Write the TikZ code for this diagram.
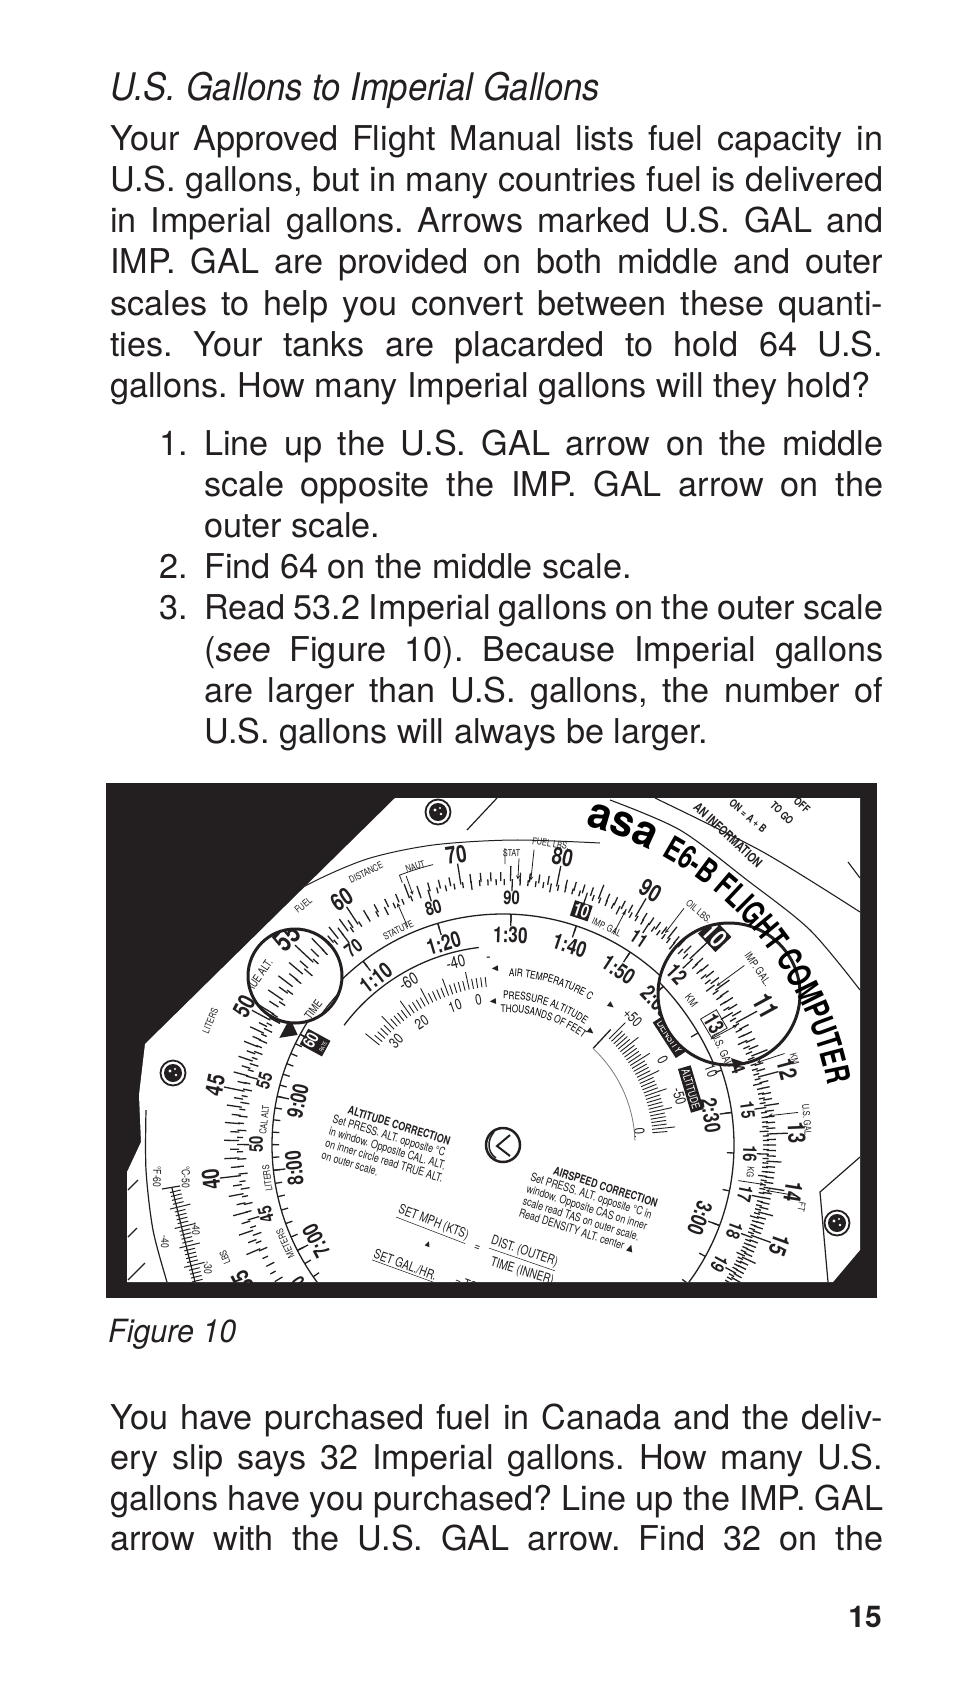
\documentclass[tikz,border=0pt]{standalone}
\usepackage{amssymb}
\usepackage{graphicx}
\usepackage{fontspec}
\setmainfont{TeX Gyre Heros}
\newfontfamily\cnd[FakeStretch=0.78]{TeX Gyre Heros}
\newfontfamily\ttlfont[FakeStretch=0.91]{TeX Gyre Heros}
\newfontfamily\figfont[FakeStretch=0.95]{TeX Gyre Heros}
\newfontfamily\brandfont[FakeStretch=0.73]{TeX Gyre Heros}
\newfontfamily\asafont[FakeStretch=0.95]{TeX Gyre Heros}
\usetikzlibrary{decorations.text}
\definecolor{ink}{RGB}{35,31,32}
\frenchspacing
\newcommand\jline[2]{\setbox0=\hbox{#2}\ifdim\wd0>\dimexpr#1+20pt\relax\resizebox{#1}{\height}{#2}\else\makebox[#1][s]{#2}\fi}
\tikzset{
  body/.style={anchor=base west,inner sep=0pt,text=ink,font=\fontsize{34.2}{41}\selectfont},
  tk/.style={draw=ink,line width=1.3pt},
  olab/.style={inner sep=0pt,text=ink,font=\cnd\bfseries\fontsize{24}{24}\selectfont},
  mlab/.style={inner sep=0pt,text=ink,font=\cnd\bfseries\fontsize{19}{19}\selectfont},
  hlab/.style={inner sep=0pt,text=ink,font=\cnd\bfseries\fontsize{22}{22}\selectfont},
  slab/.style={inner sep=0pt,text=ink,font=\cnd\fontsize{9.5}{9.5}\selectfont},
  nlab/.style={inner sep=0pt,text=ink,font=\cnd\fontsize{17}{17}\selectfont},
  plab/.style={inner sep=0pt,text=ink,font=\cnd\fontsize{15}{15}\selectfont},
  tlab/.style={inner sep=0pt,text=ink,font=\cnd\fontsize{11}{11}\selectfont},
  blk/.style={fill=ink,text=white,inner sep=1.5pt},
  corr/.style={inner sep=0pt,text=ink,align=left,font=\cnd\fontsize{11.5}{12.6}\selectfont},
  setl/.style={inner sep=0pt,text=ink,font=\cnd\fontsize{13}{13}\selectfont},
  slide/.style={inner sep=0pt,text=ink,font=\cnd\bfseries\fontsize{11}{11}\selectfont},
  arr/.style={draw=ink,line width=0.8pt,-stealth},
}
\def\magmode{0}
% label on the ring: style, angle, radius, text (skipped/kept according to the magnifier being drawn)
\newcommand\rlab[4]{%
 \pgfmathsetmacro\px{503+#3*cos(#2)}%
 \pgfmathsetmacro\py{1145-#3*sin(#2)}%
 \pgfmathsetmacro\dA{veclen(\px-295,\py-976)}%
 \pgfmathsetmacro\dB{veclen(\px-729,\py-994)}%
 \pgfmathsetmacro\showit{\magmode==0 ? and(\dA>44,\dB>67) : (\magmode==1 ? \dA<44 : \dB<67)}%
 \ifdim\showit pt>0.5pt\relax\node[#1,rotate=#2-90] at (#2:#3) {#4};\fi}
\newcommand\rivet[1]{\draw[ink,line width=1.8pt] #1 circle (12.5);\fill[ink] #1 circle (9);\fill[white] #1 ++(-3,-2) circle (1.6);\fill[white] #1 ++(3,2) circle (1.3);\fill[white] #1 ++(2,-4) circle (1.2);}
\newcommand\ringstuff{%
\begin{scope}[shift={(503,1145)},y=1pt]
\draw[ink,line width=1.3pt] (0,0) circle (231);
\foreach \ii in {72,...,120}{%
 \pgfmathsetmacro\ang{763.4-360*log10(\ii/2)}%
 \pgfmathsetmacro\rr{mod(\ii,10)==0 ? 285 : (mod(\ii,2)==0 ? 279 : 273)}%
 \draw[tk] (\ang:264) -- (\ang:\rr);}
\foreach \vv in {61,...,160}{%
 \pgfmathsetmacro\ang{763.4-360*log10(\vv)}%
 \pgfmathsetmacro\rr{mod(\vv,10)==0 ? 285 : (mod(\vv,5)==0 ? 279 : 273)}%
 \draw[tk] (\ang:264) -- (\ang:\rr);}
\foreach \mm in {60,...,196}{%
 \pgfmathsetmacro\ang{791.5-360*log10(\mm)}%
 \pgfmathsetmacro\rr{mod(\mm,10)==0 ? 254 : (mod(\mm,5)==0 ? 257 : 260)}%
 \draw[tk] (\ang:266) -- (\ang:\rr);}
\foreach \mm in {400,405,...,600}{%
 \pgfmathsetmacro\ang{791.5-360*log10(\mm)}%
 \pgfmathsetmacro\rr{mod(\mm,50)==0 ? 254 : (mod(\mm,10)==0 ? 257 : 260)}%
 \draw[tk] (\ang:266) -- (\ang:\rr);}
\foreach \mm in {70,80,...,200,400,410,...,600}{%
 \pgfmathsetmacro\ang{791.5-360*log10(\mm)}%
 \draw[tk] (\ang:231) -- (\ang:224);}
\foreach \mm in {70,80,90,100,110,120,150,180,420,480,540,600}{%
 \pgfmathsetmacro\ang{791.5-360*log10(\mm)}%
 \draw[tk] (\ang:231) -- (\ang:219);}
\foreach \vv/\lbl in {35/35,40/40,45/45,50/50,55/55,60/60,70/70,80/80,90/90,110/11,120/12,130/13,140/14,150/15,160/16}{%
 \pgfmathsetmacro\ang{763.4-360*log10(\vv)}%
 \rlab{olab}{\ang}{294}{\lbl}}
\pgfmathsetmacro\ango{763.4-360*log10(100)}
\rlab{blk,font=\cnd\bfseries\fontsize{22}{22}\selectfont}{\ango}{294}{10}
\foreach \mm/\lbl in {40/40,45/45,50/50,55/55,70/70,80/80,90/90,110/11,120/12,140/14,150/15,160/16,170/17,180/18,190/19,200/20}{%
 \pgfmathsetmacro\ang{791.5-360*log10(\mm)}%
 \rlab{mlab}{\ang}{247}{\lbl}}
\pgfmathsetmacro\angm{791.5-360*log10(100)}
\rlab{blk,font=\cnd\bfseries\fontsize{18}{18}\selectfont}{\angm}{247}{10}
\pgfmathsetmacro\angn{791.5-360*log10(130)}
\rlab{mlab,draw=ink,line width=0.8pt,inner sep=1pt}{\angn}{247}{13}
\foreach \mm/\lbl in {70/1:10,80/1:20,90/1:30,100/1:40,110/1:50,120/2:00,150/2:30,180/3:00,420/7:00,480/8:00,540/9:00}{%
 \pgfmathsetmacro\ang{791.5-360*log10(\mm)}%
 \rlab{hlab}{\ang}{210}{\lbl}}
\foreach \aa/\rad/\lbl in {116.7/305/DISTANCE,129.8/312/FUEL,145/292/TRUE ALT.,157/318/LITERS,202/300/LBS,50/305/OIL LBS.,34.5/305/IMP. GAL.,16.4/304/KM,4.8/305/U.S. GAL,-11.7/305/FT,107.5/292/NAUT,88.3/292/STAT,81/305/FUEL LBS.,116/239/STATUTE,64.5/241/IMP. GAL,37/242/KM,25/243/U.S. GAL,-6.3/249/KG,174/240/CAL ALT,188/238/LITERS,204.4/239/METERS,143.8/239/TIME}{%
 \rlab{slab}{\aa}{\rad}{\lbl}}
\foreach \aa/\ra/\rb in {109.8/286/266,86.8/287/266,84/297/266,52.6/298/267,36.3/297/267,18/296/267,6.3/297/267,-9.8/298/267}{%
 \draw[arr] (\aa:\ra) -- (\aa:\rb);}
\foreach \aa in {113.6,62.4,28,-8.6}{%
 \draw[arr] (\aa:238) -- (\aa:264);}
\draw[ink,line width=0.8pt] (111:281) -- (111:289) arc[start angle=111,end angle=104,radius=289];
\draw[ink,line width=0.8pt] (89.6:281) -- (89.6:297);
\end{scope}}
\begin{document}
\begin{tikzpicture}[x=1pt,y=-1pt]
\useasboundingbox (0,0) rectangle (954,1697);
\fill[white] (0,0) rectangle (954,1697);
% ---------- text ----------
\node[anchor=base west,inner sep=0pt,text=ink,font=\ttlfont\itshape\fontsize{38}{40}\selectfont] (title) at (110,100) {U.S. Gallons to Imperial Gallons};
\node[body] (p1) at (110,150) {\jline{773pt}{Your Approved Flight Manual lists fuel capacity in}};
\node[body] (p2) at (110,191.3) {\jline{773pt}{U.S. gallons, but in many countries fuel is delivered}};
\node[body] (p3) at (110,232.6) {\jline{773pt}{in Imperial gallons. Arrows marked U.S. GAL and}};
\node[body] (p4) at (110,273.9) {\jline{773pt}{IMP. GAL are provided on both middle and outer}};
\node[body] (p5) at (110,315.2) {\jline{773pt}{scales to help you convert between these quanti-}};
\node[body] (p6) at (110,356.5) {\jline{773pt}{ties. Your tanks are placarded to hold 64 U.S.}};
\node[body] (p7) at (110,397.8) {gallons. How many Imperial gallons will they hold?};
\node[body] (n1) at (159,455) {1.};
\node[body] (l1) at (204,455) {\jline{679pt}{Line up the U.S. GAL arrow on the middle}};
\node[body] (l2) at (204,496.2) {\jline{679pt}{scale opposite the IMP. GAL arrow on the}};
\node[body] (l3) at (204,537.4) {outer scale.};
\node[body] (n2) at (159,578.6) {2.};
\node[body] (l4) at (204,578.6) {Find 64 on the middle scale.};
\node[body] (n3) at (159,619.8) {3.};
\node[body] (l5) at (204,619.8) {\jline{679pt}{Read 53.2 Imperial gallons on the outer scale}};
\node[body] (l6) at (204,661) {\jline{679pt}{(\textit{see} Figure 10). Because Imperial gallons}};
\node[body] (l7) at (204,702.2) {\jline{679pt}{are larger than U.S. gallons, the number of}};
\node[body] (l8) at (204,743.4) {U.S. gallons will always be larger.};
\node[anchor=base west,inner sep=0pt,text=ink,font=\figfont\itshape\fontsize{32}{34}\selectfont] (cap) at (108,1342) {Figure 10};
\node[body] (q1) at (110,1429) {\jline{773pt}{You have purchased fuel in Canada and the deliv-}};
\node[body] (q2) at (110,1469.5) {\jline{773pt}{ery slip says 32 Imperial gallons. How many U.S.}};
\node[body] (q3) at (110,1510) {\jline{773pt}{gallons have you purchased? Line up the IMP. GAL}};
\node[body] (q4) at (110,1550.5) {\jline{773pt}{arrow with the U.S. GAL arrow. Find 32 on the}};
\node[anchor=base east,inner sep=0pt,text=ink,font=\bfseries\fontsize{30}{30}\selectfont] (pg) at (882,1627) {15};
% ---------- figure ----------
\fill[ink] (106,783) rectangle (877,1298);
\begin{scope}
\clip (395,798) -- (860,798) -- (860,1250) -- (833,1282) -- (127,1282) -- (127,1172) -- (141,1142) -- (139,1095) -- (145,1044) -- cycle;
\fill[white] (100,790) rectangle (870,1290);
% plate lines
\draw[ink,line width=1.2pt] (467,830) -- (497,798);
\draw[ink,line width=1.2pt] (860,1157) -- (820,1192) -- (828,1282);
\draw[ink,line width=1.2pt] plot[smooth] coordinates {(146,1110) (146,1170) (153,1230) (167,1282)};
\draw[ink,line width=1.2pt] (128,1190) -- (138,1180) (128,1237) -- (137,1228) (128,1280) -- (145,1263);
\draw[ink,line width=1pt] plot[smooth] coordinates {(600,843) (513,840) (433,845) (367,859) (307,885) (250,920) (228,940)};
\rivet{(438,812)}
\rivet{(173,1073)}
\rivet{(837,1223)}
% scales
\def\magmode{0}
\ringstuff
% inner disk details
\begin{scope}[shift={(503,1145)},y=1pt]
\draw[ink,line width=1.3pt] (97:199) arc[start angle=97,end angle=143,radius=199];
\foreach \k in {0,...,29}{\pgfmathsetmacro\ang{141-1.55*\k}\pgfmathsetmacro\rr{mod(\k,5)==0 ? 177 : 169}\draw[tk,line width=0.9pt] (\ang:159) -- (\ang:\rr);}
\node[nlab,rotate=30] (tm60) at (120:189) {-60};
\node[nlab,rotate=14.5] (tm40) at (104.5:189) {-40};
\node[nlab,rotate=4.4] (tmd) at (94.4:186) {-};
\node[plab,rotate=9.6] (pa0) at (99.6:147) {0};
\node[plab,rotate=19] (pa10) at (109:147) {10};
\node[plab,rotate=33.6] (pa20) at (123.6:147) {20};
\node[plab,rotate=45.8] (pa30) at (135.8:149) {30};
\foreach \k in {0,...,31}{\pgfmathsetmacro\ang{45-1.3*\k}\pgfmathsetmacro\rr{mod(\k,5)==0 ? 173 : 165}\draw[tk,line width=0.9pt] (\ang:150) -- (\ang:\rr);}
\node[plab,rotate=-45.5] (da50) at (44.5:182) {+50};
\node[plab,rotate=-62] (da0) at (28:181) {0};
\node[plab,rotate=-74.6] (dam50) at (15.4:183) {-50};
\node[plab,rotate=-85] (daz) at (5:137) {0.};
\node[plab,rotate=-70.5] (da10) at (19.5:221) {10};
\node[blk,font=\cnd\fontsize{11}{11}\selectfont,rotate=-57,inner sep=2.5pt] (dens) at (33:199) {DENSITY};
\node[blk,font=\cnd\fontsize{11}{11}\selectfont,rotate=-73.4,inner sep=2.5pt] (alti) at (16.6:196) {ALTITUDE};
\draw[ink,line width=1.3pt] (47:158) -- (47:132);
\draw[ink!60,line width=0.8pt] (47:132) arc[start angle=47,end angle=2,radius=132];
\path[decorate,decoration={text along path,text={|\cnd\fontsize{10.5}{10.5}\selectfont|AIR TEMPERATURE C}}] (88:169) arc[start angle=88,end angle=45,radius=169];
\path[decorate,decoration={text along path,text={|\cnd\fontsize{10.5}{10.5}\selectfont|PRESSURE ALTITUDE}}] (90:146) arc[start angle=90,end angle=45,radius=146];
\path[decorate,decoration={text along path,text={|\cnd\fontsize{10.5}{10.5}\selectfont|THOUSANDS OF FEET}}] (91:133) arc[start angle=91,end angle=45,radius=133];
\node[inner sep=0,text=ink,font=\fontsize{10}{10}\selectfont,rotate=2.6] (ta1) at (92.6:176) {$\blacktriangleleft$};
\node[inner sep=0,text=ink,font=\fontsize{10}{10}\selectfont,rotate=-38] (ta2) at (52:176) {$\blacktriangleright$};
\node[inner sep=0,text=ink,font=\fontsize{10}{10}\selectfont,rotate=4] (ta3) at (94:144) {$\blacktriangleleft$};
\node[inner sep=0,text=ink,font=\fontsize{10}{10}\selectfont,rotate=-38] (ta4) at (52:143) {$\blacktriangleright$};
\fill[ink] (151.8:233) -- (149.2:248) -- (154.4:248) -- cycle;
\node[blk,rotate=61.4,align=center,inner sep=1.5pt] (rate) at (151.4:214) {\cnd\bfseries\fontsize{17}{15}\selectfont 60\\[-2pt]\cnd\fontsize{5.5}{5.5}\selectfont RATE};
\end{scope}
% centre rivet
\draw[ink,line width=2.5pt] (503,1145) circle (17);
\draw[ink,line width=2pt] (510,1135) -- (497,1146) -- (510,1156);
\draw[ink,line width=1.5pt] (494,1132) .. controls (487,1140) and (487,1152) .. (496,1158);
% correction texts
\node[corr,anchor=north west,rotate=-17] (altc) at (338,1102) {\hspace*{12pt}{\bfseries ALTITUDE CORRECTION}\\Set PRESS. ALT. opposite °C\\in window. Opposite CAL. ALT.\\on inner circle read TRUE ALT.\\on outer scale.};
\node[corr,anchor=north west,rotate=-17.6] (aspc) at (536,1160) {\hspace*{20pt}{\bfseries AIRSPEED CORRECTION}\\Set PRESS. ALT. opposite °C in\\window. Opposite CAS on inner\\scale read TAS on outer scale.\\Read DENSITY ALT. center $\blacktriangle$};
\node[setl,rotate=-21] (mph) at (433,1224) {\underline{SET MPH (KTS)}};
\node[inner sep=0,text=ink,font=\fontsize{9}{9}\selectfont,rotate=-21] (mtri) at (428,1244) {$\blacktriangle$};
\node[setl,rotate=-20] (eq1) at (477,1248) {=};
\node[setl,rotate=-19] (dist) at (524,1253) {\underline{DIST. (OUTER)}};
\node[setl,rotate=-17] (timei) at (522,1272) {TIME (INNER)};
\node[setl,rotate=-20] (gal) at (405,1266) {\underline{SET GAL./HR.}};
\node[setl,rotate=-20] (eq2) at (466,1284) {= TO};
% thermometer scale
\draw[ink,line width=1.2pt] (172,1188) -- (195,1282);
\draw[ink,line width=1.2pt] (162,1189) -- (180,1186);
\foreach \k in {1,...,24}{\pgfmathsetmacro\px{172+0.95*\k}\pgfmathsetmacro\py{1188+3.884*\k}\pgfmathsetmacro\lenr{mod(\k,5)==0 ? 14 : 8}\pgfmathsetmacro\lenl{mod(\k,5)==0 ? 7 : 3}\draw[ink,line width=1pt] ({\px-\lenl*0.9711},{\py+\lenl*0.2376}) -- ({\px+\lenr*0.9711},{\py-\lenr*0.2376});}
\node[tlab,rotate=-90] (tf60) at (157,1177) {°F-60};
\node[tlab,rotate=-90] (tc50) at (186,1177) {°C-50};
\node[tlab,rotate=-90] (tf40) at (165,1242) {-40};
\node[tlab,rotate=-90] (tc40) at (196,1229) {-40};
\node[tlab,rotate=-90] (tc30) at (208,1268) {-30};
% magnifiers
\begin{scope}
\clip (295,976) circle (47);
\fill[white] (295,976) circle (47);
\def\magmode{1}
\begin{scope}[shift={(295,976)},scale=1.2,shift={(-295,-976)},transform shape]
\ringstuff
\end{scope}
\end{scope}
\draw[ink,line width=3pt] (295,976) circle (47);
\begin{scope}
\clip (729,994) circle (71);
\fill[white] (729,994) circle (71);
\def\magmode{2}
\begin{scope}[shift={(729,994)},scale=1.15,shift={(-729,-994)},transform shape]
\ringstuff
\end{scope}
\end{scope}
\draw[ink,line width=3pt] (729,994) circle (71);
\fill[ink] (731,1058) -- (743,1062) -- (735,1070) -- cycle;
% brand and slide
\begin{scope}[shift={(503,1145)},y=1pt]
\path[decorate,decoration={text along path,text={|\asafont\bfseries\fontsize{44}{44}\selectfont|asa |\brandfont\bfseries\fontsize{33}{33}\selectfont|E6-B FLIGHT COMPUTER}}] (75.5:330) arc[start angle=75.5,end angle=-3,radius=330];
\end{scope}
\draw[ink,line width=1.1pt] plot[smooth] coordinates {(610,800) (680,830) (747,880) (810,930) (860,990)};
\draw[ink,line width=1.1pt] plot[smooth] coordinates {(655,798) (763,852) (860,912)};
\draw[ink,line width=1.1pt] (848,862) -- (860,878);
\node[slide,font=\cnd\bfseries\fontsize{13}{13}\selectfont,rotate=-43] (ainf) at (728,835) {AN INFORMATION};
\node[slide,rotate=-40] (onab) at (748,816) {ON = A + B};
\node[slide,rotate=-45] (togo) at (782,813) {TO GO};
\node[slide,rotate=-42] (off) at (802,805) {OFF};
\end{scope}
\end{tikzpicture}
\end{document}
